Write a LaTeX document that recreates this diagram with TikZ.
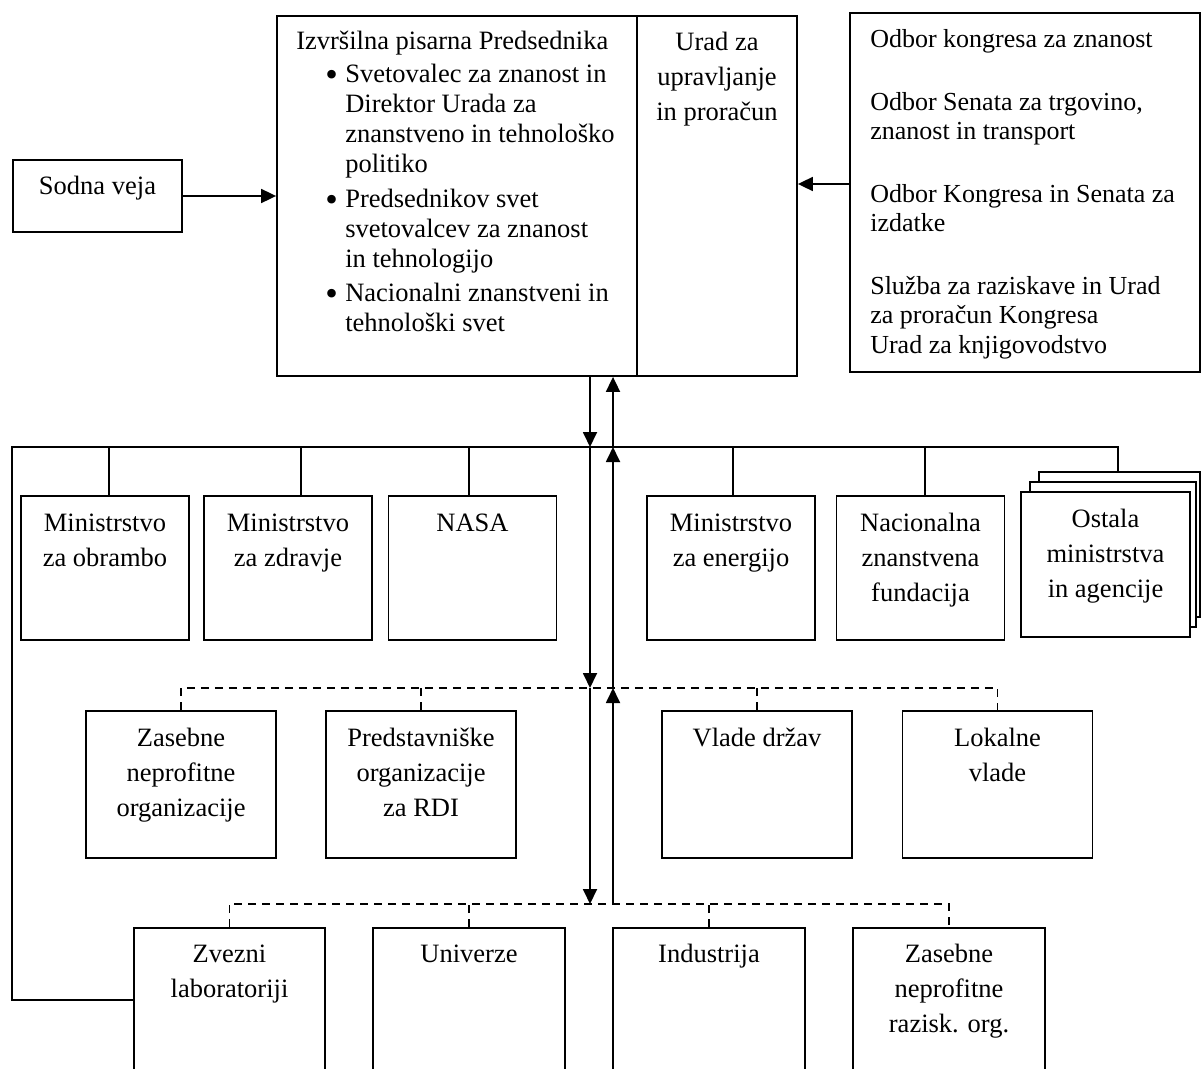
\documentclass[tikz,border=0pt]{standalone}
\usepackage{fontspec}
\setmainfont{Liberation Serif}
\usetikzlibrary{arrows.meta}
\newcommand\cltab[1]{\begin{tabular}[t]{@{}c@{}}#1\end{tabular}}
\newcommand\lftab[1]{\begin{tabular}[t]{@{}l@{}}#1\end{tabular}}
\newcommand\bul{\makebox[49pt][l]{\hspace*{29pt}\raisebox{-4pt}{\scalebox{1.35}{\textbullet}}}}
\newcommand\ind{\hspace*{49pt}}
\begin{document}
\begin{tikzpicture}[x=1pt,y=-1pt,
  box/.style={draw, line width=1.8pt, inner sep=0pt, fill=white},
  lbl/.style={anchor=base, inner sep=0pt, font=\fontsize{26.5}{35}\selectfont},
  arr/.style={line width=1.8pt, -{Triangle[length=15pt,width=14pt]}},
  conn/.style={line width=1.8pt},
  dsh/.style={line width=1.7pt, dash pattern=on 8pt off 6pt}]
\useasboundingbox (0,0) rectangle (1201,1068);
\fill[white] (0,0) rectangle (1201,1068);
\clip (0,0) rectangle (1201,1068);

% top row
\node[box, minimum width=360pt, minimum height=360pt] (eop) at (457,196) {};
\node[box, minimum width=160pt, minimum height=360pt] (omb) at (717,196) {};
\node[box, minimum width=350pt, minimum height=359pt] (odbor) at (1025,192.5) {};
\node[box, minimum width=169pt, minimum height=72pt] (sodna) at (97.5,196) {};

\node[anchor=base west, inner sep=0pt, font=\fontsize{26.5}{30}\selectfont] (eopt)
  at ([xshift=20pt,yshift=-34pt]eop.north west) {\lftab{%
Izvršilna pisarna Predsednika\\[3pt]
\bul Svetovalec za znanost in\\
\ind Direktor Urada za\\
\ind znanstveno in tehnološko\\
\ind politiko\\[5pt]
\bul Predsednikov svet\\
\ind svetovalcev za znanost\\
\ind in tehnologijo\\[4pt]
\bul Nacionalni znanstveni in\\
\ind tehnološki svet}};
\node[lbl] (ombt) at ([yshift=-35pt]omb.north) {\cltab{Urad za\\upravljanje\\in proračun}};
\node[anchor=base west, inner sep=0pt, font=\fontsize{26}{29.5}\selectfont] (odbort)
  at ([xshift=21pt,yshift=-35.5pt]odbor.north west) {\lftab{%
Odbor kongresa za znanost\\[33pt]
Odbor Senata za trgovino,\\
znanost in transport\\[33pt]
Odbor Kongresa in Senata za\\
izdatke\\[33pt]
Služba za raziskave in Urad\\
za proračun Kongresa\\
Urad za knjigovodstvo}};
\node[lbl] (sodnat) at ([yshift=-35pt]sodna.north) {Sodna veja};

% ministries row
\node[box, minimum width=168pt, minimum height=144pt] (m1) at (105,568) {};
\node[box, minimum width=168pt, minimum height=144pt] (m2) at (288,568) {};
\node[box, minimum width=168pt, minimum height=144pt] (nasa) at (472.5,568) {};
\node[box, minimum width=168pt, minimum height=144pt] (energ) at (731,568) {};
\node[box, minimum width=168pt, minimum height=144pt] (nsf) at (920.5,568) {};
\node[box, minimum width=161pt, minimum height=145pt] (ost3) at (1119.5,544.5) {};
\node[box, minimum width=166pt, minimum height=145pt] (ost2) at (1113,554.5) {};
\node[box, minimum width=169pt, minimum height=145pt] (ost1) at (1105.5,564.5) {};

\node[lbl] (m1t) at ([yshift=-36pt]m1.north) {\cltab{Ministrstvo\\za obrambo}};
\node[lbl] (m2t) at ([yshift=-36pt]m2.north) {\cltab{Ministrstvo\\za zdravje}};
\node[lbl] (nasat) at ([yshift=-36pt]nasa.north) {NASA};
\node[lbl] (energt) at ([yshift=-36pt]energ.north) {\cltab{Ministrstvo\\za energijo}};
\node[lbl] (nsft) at ([yshift=-36pt]nsf.north) {\cltab{Nacionalna\\znanstvena\\fundacija}};
\node[lbl] (ostt) at ([yshift=-36pt]ost1.north) {\cltab{Ostala\\ministrstva\\in agencije}};

% second row
\node[box, minimum width=190pt, minimum height=147pt] (z1) at (181,784.5) {};
\node[box, minimum width=190pt, minimum height=147pt] (z2) at (421,784.5) {};
\node[box, minimum width=190pt, minimum height=147pt] (z3) at (757,784.5) {};
\node[box, minimum width=190pt, minimum height=147pt] (z4) at (997.5,784.5) {};
\node[lbl] (z1t) at ([yshift=-36pt]z1.north) {\cltab{Zasebne\\neprofitne\\organizacije}};
\node[lbl] (z2t) at ([yshift=-36pt]z2.north) {\cltab{Predstavniške\\organizacije\\za RDI}};
\node[lbl] (z3t) at ([yshift=-36pt]z3.north) {Vlade držav};
\node[lbl] (z4t) at ([yshift=-36pt]z4.north) {\cltab{Lokalne\\vlade}};

% third row
\node[box, minimum width=191pt, minimum height=144pt] (r1) at (229.5,1000) {};
\node[box, minimum width=192pt, minimum height=144pt] (r2) at (469,1000) {};
\node[box, minimum width=192pt, minimum height=144pt] (r3) at (709,1000) {};
\node[box, minimum width=192pt, minimum height=144pt] (r4) at (949,1000) {};
\node[lbl] (r1t) at ([yshift=-35pt]r1.north) {\cltab{Zvezni\\laboratoriji}};
\node[lbl] (r2t) at ([yshift=-35pt]r2.north) {Univerze};
\node[lbl] (r3t) at ([yshift=-35pt]r3.north) {Industrija};
\node[lbl] (r4t) at ([yshift=-35pt]r4.north) {\cltab{Zasebne\\neprofitne\\razisk. org.}};

% coordinates
\coordinate (busL) at (12,447);
\coordinate (busR) at (1118,447);
\coordinate (b2) at (0,688);
\coordinate (b3) at (0,904);
\coordinate (dnx) at (590,0);
\coordinate (upx) at (613,0);

% side arrows
\draw[arr] (sodna.east) -- (sodna.east -| eop.west);
\draw[arr] ([yshift=8.5pt]odbor.west) -- ([yshift=8.5pt]odbor.west -| omb.east);

% solid bus
\draw[conn] (r1.west) -| (busL) -- (busR) -- (busR |- ost3.north);
\draw[conn] ([xshift=4pt]m1.north) -- ([xshift=4pt]m1.north |- busL);
\draw[conn] ([xshift=13pt]m2.north) -- ([xshift=13pt]m2.north |- busL);
\draw[conn] ([xshift=-3.5pt]nasa.north) -- ([xshift=-3.5pt]nasa.north |- busL);
\draw[conn] ([xshift=2pt]energ.north) -- ([xshift=2pt]energ.north |- busL);
\draw[conn] ([xshift=4.5pt]nsf.north) -- ([xshift=4.5pt]nsf.north |- busL);

% dashed buses
\draw[dsh] (z1.north) -- (z1.north |- b2) -- (z4.north |- b2) -- (z4.north);
\draw[dsh] (z2.north) -- (z2.north |- b2);
\draw[dsh] (z3.north) -- (z3.north |- b2);
\draw[dsh] (r1.north) -- (r1.north |- b3) -- (r4.north |- b3) -- (r4.north);
\draw[dsh] (r2.north) -- (r2.north |- b3);
\draw[dsh] (r3.north) -- (r3.north |- b3);

% vertical arrows
\draw[arr] (eop.south -| dnx) -- (dnx |- busL);
\draw[arr] (dnx |- busL) -- (dnx |- b2);
\draw[arr] (dnx |- b2) -- (dnx |- b3);
\draw[arr] (upx |- b3) -- (upx |- b2);
\draw[arr] (upx |- b2) -- (upx |- busL);
\draw[arr] (upx |- busL) -- (eop.south -| upx);
\end{tikzpicture}
\end{document}
